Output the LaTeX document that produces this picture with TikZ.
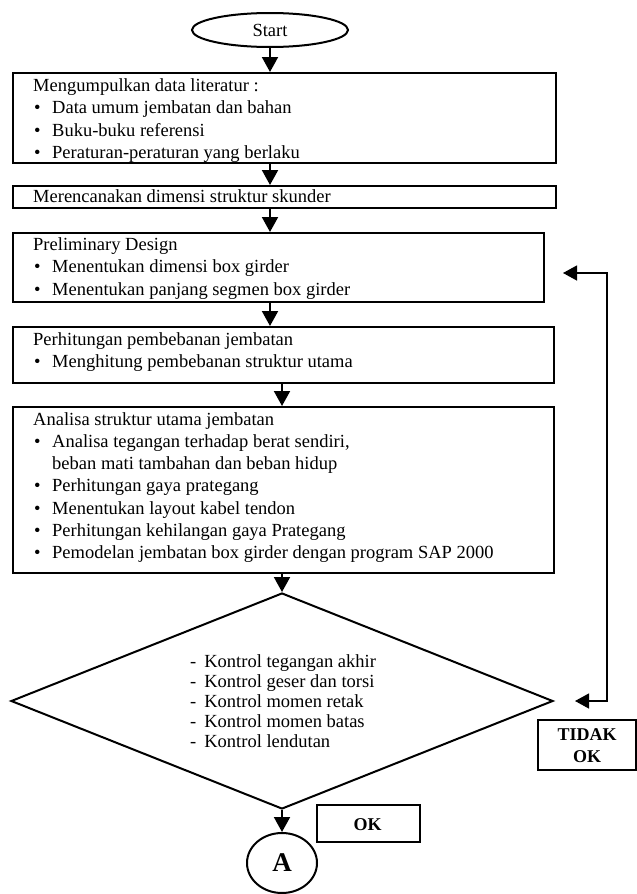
\documentclass[tikz,border=0pt]{standalone}
\usepackage{fontspec}
\setmainfont{Liberation Serif}
\usetikzlibrary{arrows.meta,shapes.geometric}
\newcommand{\bl}{\makebox[18pt][l]{•}}
\begin{document}
\begin{tikzpicture}[x=1pt,y=-1pt,
  boxst/.style={draw,line width=2pt,inner sep=0pt,anchor=north west},
  txt/.style={inner sep=0pt,anchor=base west,font=\fontsize{18.5}{21.5}\selectfont},
  btxt/.style={inner sep=0pt,anchor=base,font=\fontsize{18}{21}\selectfont\bfseries},
  arr/.style={line width=2pt,-{Triangle[width=16pt,length=15pt]}},
  fb/.style={line width=1.3pt,{Triangle[width=15pt,length=14pt]}-{Triangle[width=15pt,length=14pt]}}]
\useasboundingbox (0,0) rectangle (637,894);
% Start
\node[draw,ellipse,line width=2pt,minimum width=156pt,minimum height=34pt,inner sep=0pt,font=\fontsize{18.5}{21.5}\selectfont] (start) at (270,30) {Start};
% Box 1
\node[boxst,minimum width=543pt,minimum height=90pt] (b1) at (12,72) {};
\node[txt] (b1a) at (33,91) {Mengumpulkan data literatur :};
\node[txt] (b1b) at (34,113.5) {\bl Data umum jembatan dan bahan};
\node[txt] (b1c) at (34,136) {\bl Buku-buku referensi};
\node[txt] (b1d) at (34,158.5) {\bl Peraturan-peraturan yang berlaku};
% Box 2
\node[boxst,minimum width=543pt,minimum height=22pt] (b2) at (12,185) {};
\node[txt] (b2a) at (33,202) {Merencanakan dimensi struktur skunder};
% Box 3
\node[boxst,minimum width=531pt,minimum height=69pt] (b3) at (12,232) {};
\node[txt] (b3a) at (33,250) {Preliminary Design};
\node[txt] (b3b) at (34,272.5) {\bl Menentukan dimensi box girder};
\node[txt] (b3c) at (34,295) {\bl Menentukan panjang segmen box girder};
% Box 4
\node[boxst,minimum width=541pt,minimum height=56pt] (b4) at (12,326) {};
\node[txt] (b4a) at (33,345) {Perhitungan pembebanan jembatan};
\node[txt] (b4b) at (34,367.5) {\bl Menghitung pembebanan struktur utama};
% Box 5
\node[boxst,minimum width=541pt,minimum height=166pt] (b5) at (12,406) {};
\node[txt] (b5a) at (33,425) {Analisa struktur utama jembatan};
\node[txt] (b5b) at (34,447.3) {\bl Analisa tegangan terhadap berat sendiri,};
\node[txt] (b5c) at (52,469.6) {beban mati tambahan dan beban hidup};
\node[txt] (b5d) at (34,491.9) {\bl Perhitungan gaya prategang};
\node[txt] (b5e) at (34,514.2) {\bl Menentukan layout kabel tendon};
\node[txt] (b5f) at (34,536.5) {\bl Perhitungan kehilangan gaya Prategang};
\node[txt] (b5g) at (34,558.8) {\bl Pemodelan jembatan box girder dengan program SAP 2000};
% Diamond
\node[draw,diamond,line width=2pt,inner sep=0pt,minimum width=542pt,minimum height=216pt] (dia) at (282,701) {};
\node[txt] (d1) at (190,667) {-\hspace{8pt}Kontrol tegangan akhir};
\node[txt] (d2) at (190,687) {-\hspace{8pt}Kontrol geser dan torsi};
\node[txt] (d3) at (190,707) {-\hspace{8pt}Kontrol momen retak};
\node[txt] (d4) at (190,727) {-\hspace{8pt}Kontrol momen batas};
\node[txt] (d5) at (190,747) {-\hspace{8pt}Kontrol lendutan};
% TIDAK OK box
\node[boxst,minimum width=98pt,minimum height=50pt] (tok) at (537,719) {};
\node[btxt] (tok1) at (587,740) {TIDAK};
\node[btxt] (tok2) at (587,762) {OK};
% OK box
\node[boxst,minimum width=103pt,minimum height=37pt] (okb) at (316,804) {};
\node[btxt] (ok1) at (367.5,830) {OK};
% Connector A
\node[draw,ellipse,line width=2pt,minimum width=70pt,minimum height=60pt,inner sep=0pt,font=\fontsize{27}{30}\selectfont\bfseries] (A) at (282,863) {A};
% Arrows
\draw[arr] (start.south) -- (start.south |- b1.north);
\draw[arr] (b1.south -| start.south) -- (b2.north -| start.south);
\draw[arr] (b2.south -| start.south) -- (b3.north -| start.south);
\draw[arr] (b3.south -| start.south) -- (b4.north -| start.south);
\draw[arr] (b4.south -| dia.north) -- (b5.north -| dia.north);
\draw[arr] (b5.south -| dia.north) -- (dia.north);
\draw[arr] (dia.south) -- (A.north);
% Feedback
\coordinate (fbA) at (563,273);
\coordinate (fbB) at (575,701);
\coordinate (fbC) at (607,273);
\coordinate (fbD) at (607,701);
\draw[fb] (fbB) -- (fbD) -- (fbC) -- (fbA);
\end{tikzpicture}
\end{document}
